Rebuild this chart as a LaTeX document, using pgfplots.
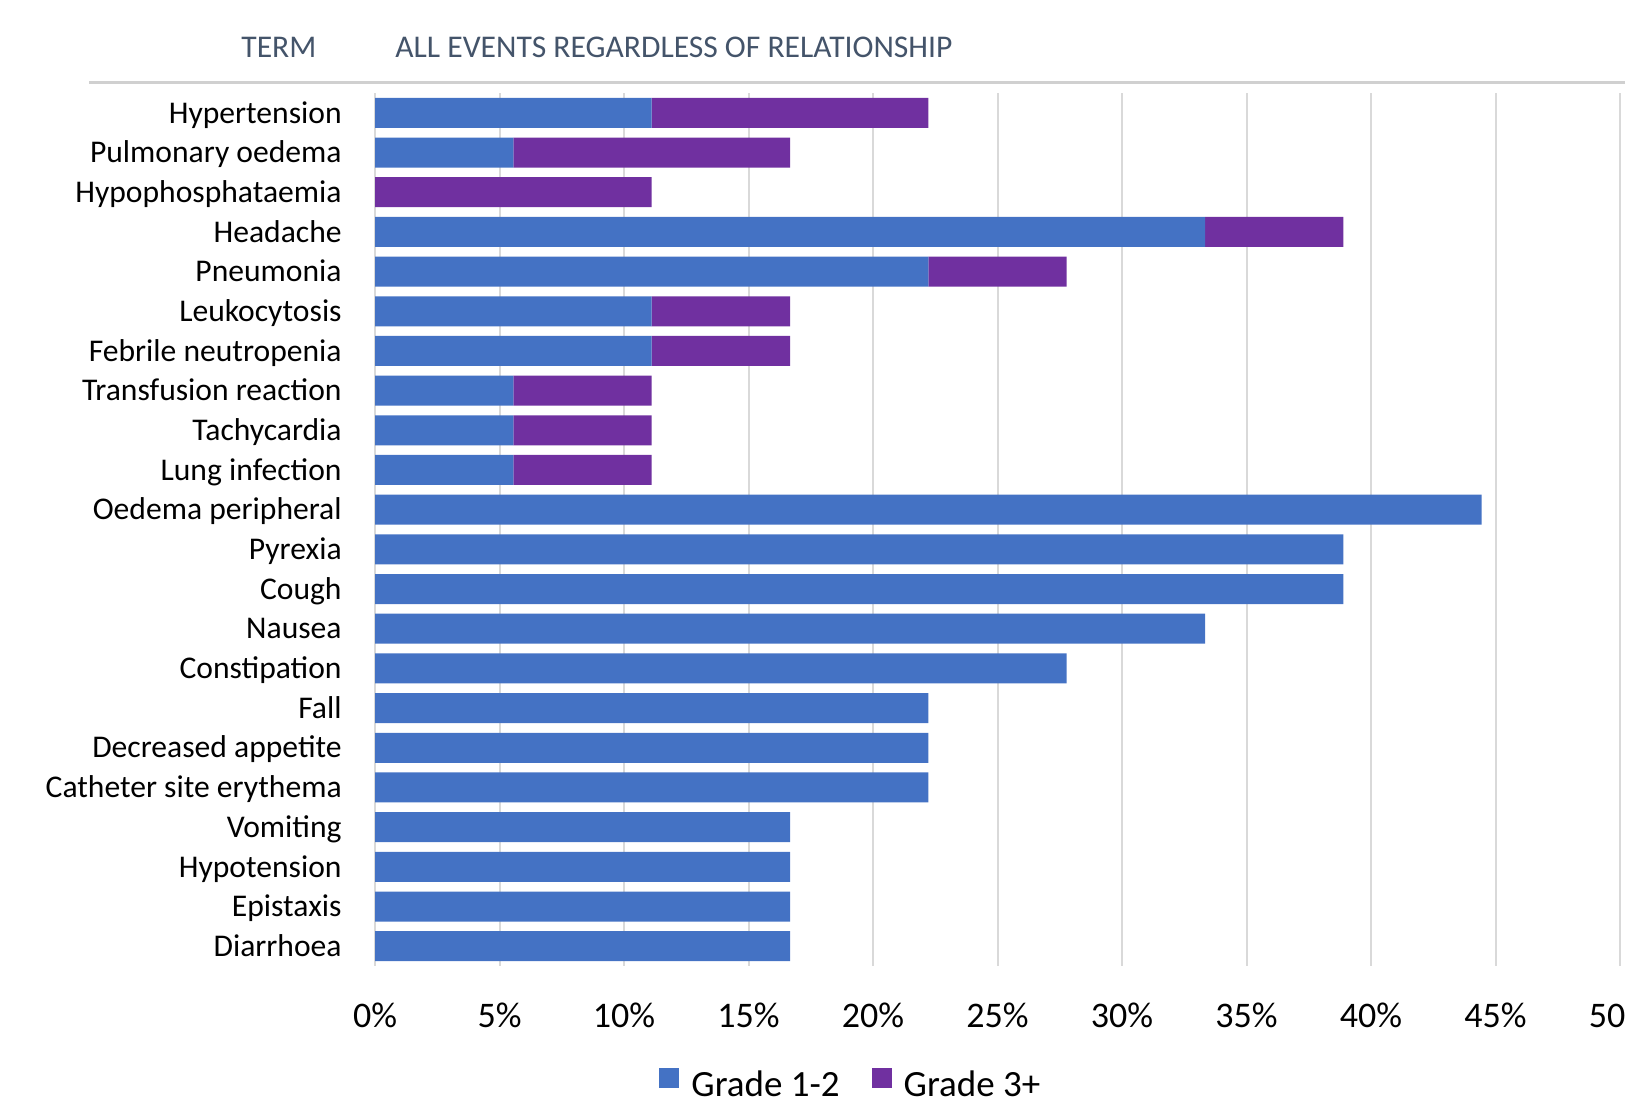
\documentclass[border=0pt]{standalone}
\usepackage{fontspec}
\setmainfont{Carlito}
\usepackage{pgfplots}
\usepackage{pgfplotstable}
\pgfplotsset{compat=1.18}

\definecolor{gradeA}{HTML}{4472C4}
\definecolor{gradeB}{HTML}{7030A0}
\definecolor{gridgray}{HTML}{D9D9D9}
\definecolor{rulegray}{HTML}{D0D0D0}
\definecolor{headblue}{HTML}{44546A}

% Share of patients (%) with each adverse event, by grade
\pgfplotstableread{
id g12    g3
0  11.111 11.111
1  5.556  11.111
2  0      11.111
3  33.333 5.556
4  22.222 5.556
5  11.111 5.556
6  11.111 5.556
7  5.556  5.556
8  5.556  5.556
9  5.556  5.556
10 44.444 0
11 38.889 0
12 38.889 0
13 33.333 0
14 27.778 0
15 22.222 0
16 22.222 0
17 22.222 0
18 16.667 0
19 16.667 0
20 16.667 0
21 16.667 0
}\aetable

% square legend swatch
\pgfplotsset{
  sqlegend/.style={legend image code/.code={\fill[##1] (0pt,-1.5pt) rectangle (10pt,8.5pt);}}
}

\begin{document}
\begin{tikzpicture}
\path[use as bounding box] (0,0) rectangle (812.5pt,-548.5pt);
% column header
\draw[rulegray, line width=1.5pt] (44.5pt,-41.5pt) -- (812.5pt,-41.5pt);
\node[anchor=west, inner sep=0pt, text=headblue, font=\fontsize{15.8}{18}\selectfont] at (120.5pt,-23.5pt) {TERM};
\node[anchor=west, inner sep=0pt, text=headblue, font=\fontsize{15.8}{18}\selectfont] at (197.5pt,-23.5pt) {ALL EVENTS REGARDLESS OF RELATIONSHIP};
\begin{axis}[
  at={(187.5pt,-46.5pt)}, anchor=north west,
  scale only axis, width=622.5pt, height=436.5pt,
  xbar stacked, bar width=15pt,
  xmin=0, xmax=50, ymin=-0.5, ymax=21.5, y dir=reverse,
  axis line style={draw=none}, major tick length=0pt,
  xmajorgrids, grid style={gridgray, line width=1pt},
  xtick={0,5,...,50},
  xticklabels={0\%,5\%,10\%,15\%,20\%,25\%,30\%,35\%,40\%,45\%,50\%},
  ytick={0,...,21},
  yticklabels={Hypertension, Pulmonary oedema, Hypophosphataemia, Headache, Pneumonia,
    Leukocytosis, Febrile neutropenia, Transfusion reaction, Tachycardia, Lung infection,
    Oedema peripheral, Pyrexia, Cough, Nausea, Constipation, Fall, Decreased appetite,
    Catheter site erythema, Vomiting, Hypotension, Epistaxis, Diarrhoea},
  xticklabel style={font=\fontsize{18}{20}\selectfont, inner sep=0pt, anchor=north},
  xticklabel shift=18.5pt,
  yticklabel style={font=\fontsize{15.8}{18}\selectfont, inner sep=0pt, anchor=base east, yshift=-5.1pt},
  yticklabel shift=16.5pt,
  legend style={at={(axis description cs:0.383,-0.136)}, anchor=center, draw=none,
    font=\fontsize{18.5}{20}\selectfont, inner sep=0pt,
    /tikz/every odd column/.append style={column sep=4pt},
    /tikz/every even column/.append style={column sep=14pt}},
  legend columns=2,
  legend cell align=left,
  clip=false,
]
\addplot[fill=gradeA, draw=none, sqlegend] table[x=g12, y=id] {\aetable};
\addplot[fill=gradeB, draw=none, sqlegend] table[x=g3, y=id] {\aetable};
\legend{Grade 1-2, Grade 3+}
\end{axis}
\end{tikzpicture}
\end{document}
